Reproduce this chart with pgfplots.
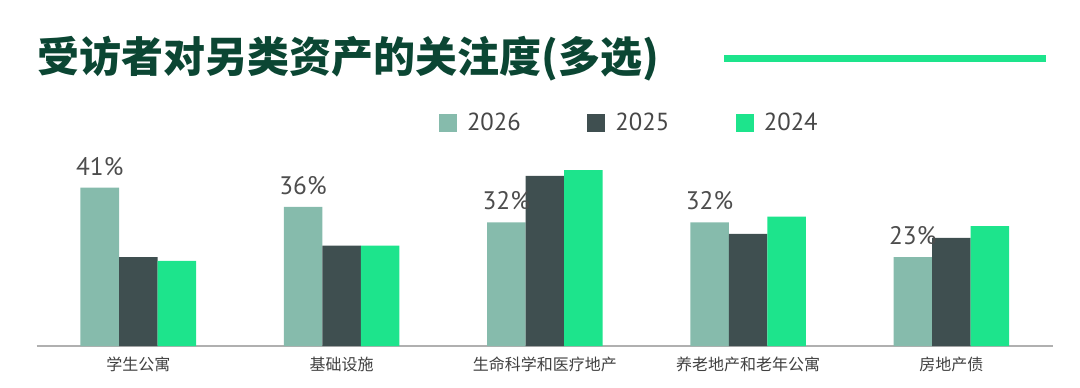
\documentclass[border=0pt]{standalone}
\usepackage{fontspec}
\setmainfont{PT Sans}
\newfontfamily\cjk{Noto Sans CJK SC}
\usepackage{pgfplots}
\pgfplotsset{compat=1.18}
\definecolor{cA}{HTML}{86BBAC}
\definecolor{cB}{HTML}{3F4F50}
\definecolor{cC}{HTML}{1DE48C}
\definecolor{titlegreen}{HTML}{0B4633}
\definecolor{lblgray}{HTML}{4D4D4D}
\definecolor{axgray}{HTML}{B0B0B0}
\begin{document}
\begin{tikzpicture}
\path[use as bounding box] (0pt,0pt) rectangle (810pt,290.25pt);
\node[anchor=west, inner sep=0pt, text=titlegreen, font={\cjk\bfseries\fontsize{31.5pt}{33pt}\selectfont}] at (27.75pt,246.5pt) {受访者对另类资产的关注度(多选)};
\draw[cC, line width=5.25pt] (543pt,246.2pt) -- (784.5pt,246.2pt);
\begin{axis}[
  at={(27.5pt,30.75pt)}, anchor=south west,
  scale only axis, width=762.2pt, height=144.9pt,
  ybar=0pt, bar width=28.9pt,
  xmin=-0.5, xmax=4.5, ymin=0, ymax=50,
  xtick={0,1,2,3,4},
  xticklabels={学生公寓,基础设施,生命科学和医疗地产,养老地产和老年公寓,房地产债},
  xticklabel style={font={\cjk\fontsize{12pt}{14pt}\selectfont}, text=black!75, yshift=-4.5pt},
  major tick length=0pt,
  axis x line=bottom, axis line style={-, axgray, line width=1.1pt},
  hide y axis,
  /pgf/number format/assume math mode=true,
  legend columns=3,
  legend style={draw=none, fill=none, inner sep=0pt, outer sep=0pt, anchor=west, at={(0.3959,1.155)},
    font={\fontsize{18.5pt}{20pt}\selectfont}, text=black!72,
    nodes={inner sep=0pt},
    /tikz/every odd column/.append style={column sep=7.5pt},
    /tikz/every even column/.append style={column sep=50pt}},
  legend image code/.code={\path[#1,draw=none] (0pt,-6.75pt) rectangle (13.5pt,6.75pt);},
]
\addplot[fill=cA, draw=none,
  nodes near coords={\pgfmathprintnumber{\pgfplotspointmeta}\%},
  every node near coord/.append style={anchor=south, inner sep=0pt, yshift=9pt, text=lblgray, font={\fontsize{19pt}{21pt}\selectfont}}]
  coordinates {(0,41) (1,36) (2,32) (3,32) (4,23)};
\addplot[fill=cB, draw=none] coordinates {(0,23) (1,26) (2,44) (3,29) (4,28)};
\addplot[fill=cC, draw=none] coordinates {(0,22) (1,26) (2,45.5) (3,33.5) (4,31)};
\legend{2026,2025,2024}
\end{axis}
\end{tikzpicture}
\end{document}
